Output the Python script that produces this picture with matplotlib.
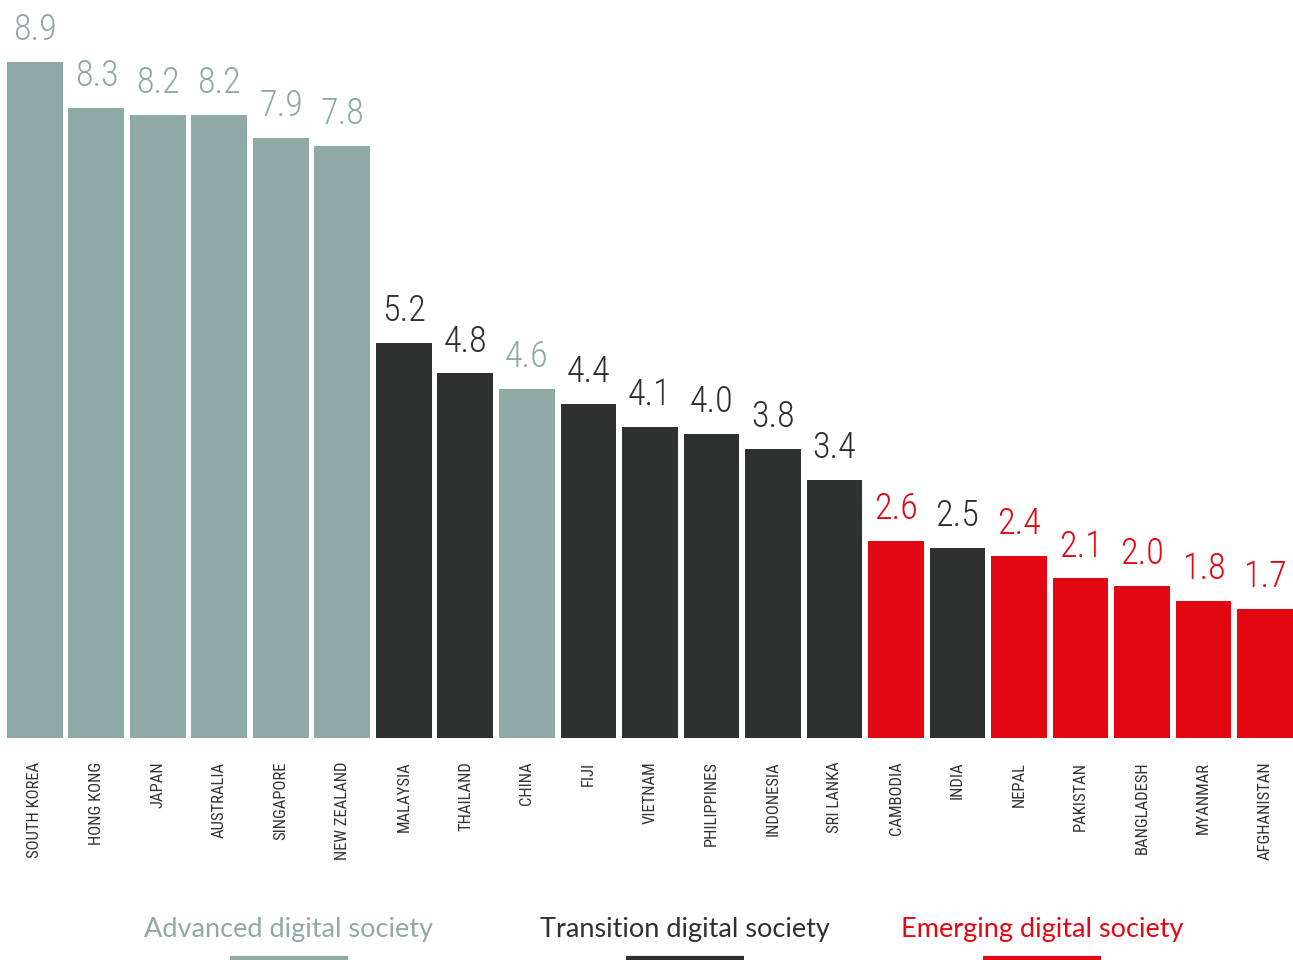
import matplotlib
matplotlib.use("Agg")
import matplotlib.pyplot as plt
from matplotlib import font_manager

countries = ["SOUTH KOREA", "HONG KONG", "JAPAN", "AUSTRALIA", "SINGAPORE", "NEW ZEALAND",
             "MALAYSIA", "THAILAND", "CHINA", "FIJI", "VIETNAM", "PHILIPPINES", "INDONESIA",
             "SRI LANKA", "CAMBODIA", "INDIA", "NEPAL", "PAKISTAN", "BANGLADESH", "MYANMAR",
             "AFGHANISTAN"]
values = [8.9, 8.3, 8.2, 8.2, 7.9, 7.8, 5.2, 4.8, 4.6, 4.4, 4.1, 4.0, 3.8, 3.4,
          2.6, 2.5, 2.4, 2.1, 2.0, 1.8, 1.7]
groups = ["A", "A", "A", "A", "A", "A", "T", "T", "A", "T", "T", "T", "T", "T",
          "E", "T", "E", "E", "E", "E", "E"]
group_names = {"A": "Advanced digital society", "T": "Transition digital society",
               "E": "Emerging digital society"}
colors = {"A": "#8fa9a5", "T": "#2f3131", "E": "#e30613"}

avail = {f.name for f in font_manager.fontManager.ttflist}
cond = [f for f in ["Roboto Condensed", "Liberation Sans Narrow", "Open Sans Condensed",
                    "DejaVu Sans Condensed"] if f in avail]
cond_font = cond + ["DejaVu Sans"]
legend_font = [f for f in ["Lato", "Open Sans"] if f in avail] + ["DejaVu Sans"]

fig = plt.figure(figsize=(12.93, 9.6), dpi=100)
ax = fig.add_axes([0.0054, 1 - 738 / 960, 1 - 0.0054, 738 / 960])

x = list(range(len(countries)))
bar_colors = [colors[g] for g in groups]
ax.bar(x, values, width=0.91, color=bar_colors, linewidth=0)
ax.set_xlim(-0.455, len(countries) - 1 + 0.455)
ax.set_ylim(0, 738 / (676 / 8.9))

for xi, v, g in zip(x, values, groups):
    ax.annotate(f"{v:.1f}", (xi, v), xytext=(0, 10), textcoords="offset points",
                ha="center", va="bottom", fontsize=26, color=colors[g],
                family=cond_font, fontweight="light")

ax.set_xticks(x)
ax.set_xticklabels(countries, rotation=90, family=cond_font, fontsize=12, color="#333333",
                   va="top")
ax.tick_params(axis="x", length=0, pad=17)
ax.set_yticks([])
for s in ax.spines.values():
    s.set_visible(False)

legend_x = [289, 685, 1042]
for gx, g in zip(legend_x, ["A", "T", "E"]):
    fig.text(gx / 1293, 1 - 930 / 960, group_names[g], ha="center", va="center",
             fontsize=19.5, color=colors[g], family=legend_font, fontweight="normal")
    fig.add_artist(plt.Line2D([(gx - 59) / 1293, (gx + 59) / 1293],
                              [1 - 958 / 960, 1 - 958 / 960], color=colors[g], lw=3,
                              solid_capstyle="butt"))

fig.savefig("out.png", dpi=100)
